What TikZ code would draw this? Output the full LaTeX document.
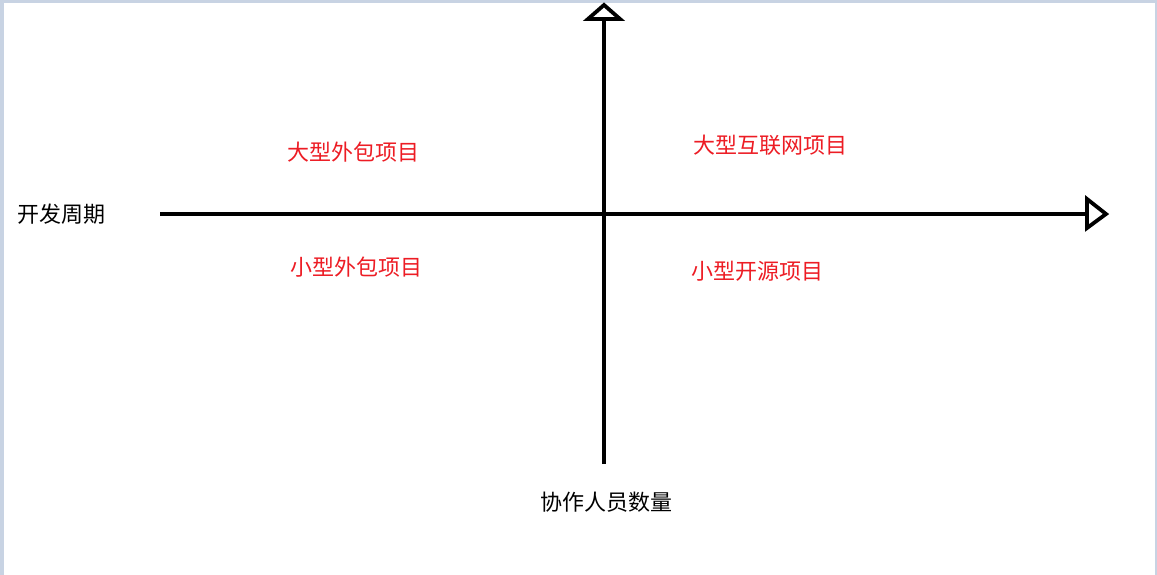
\documentclass[tikz,border=0pt]{standalone}
\usepackage{fontspec}
\newfontfamily\cjk{Noto Sans CJK SC}
\definecolor{paintred}{RGB}{237,28,36}
\definecolor{frame}{RGB}{200,211,227}
\begin{document}
\begin{tikzpicture}[x=1pt,y=-1pt,
  axis/.style={line width=4pt,black},
  tip/.style={line width=3.8pt,black,line join=miter},
  lbl/.style={font=\cjk\fontsize{22}{24}\selectfont,text=paintred,inner sep=0pt},
  axlbl/.style={font=\cjk\fontsize{22}{24}\selectfont,text=black,inner sep=0pt}]
\useasboundingbox (0,0) rectangle (1157,575);
\fill[white] (0,0) rectangle (1157,575);
\fill[frame] (0,0) rectangle (1157,3);
\fill[frame] (0,0) rectangle (4,575);
\fill[frame] (1155,0) rectangle (1157,575);
% axes
\coordinate (hl) at (160,214);
\coordinate (hr) at (1087,214);
\coordinate (vb) at (604,464);
\coordinate (vt) at (604,20);
\draw[axis] (hl) -- (hr);
\draw[axis] (vb) -- (vt);
\draw[tip] (1087,199) -- (1106,214) -- (1087,228) -- cycle;
\draw[tip] (588,19) -- (604,5) -- (620,19) -- cycle;
% labels
\node[lbl] (q2) at (353,152) {大型外包项目};
\node[lbl] (q1) at (770,145) {大型互联网项目};
\node[lbl] (q3) at (356,267) {小型外包项目};
\node[lbl] (q4) at (757,271) {小型开源项目};
\node[axlbl] (xl) at (61,214) {开发周期};
\node[axlbl] (yl) at (606,502) {协作人员数量};
\end{tikzpicture}
\end{document}
